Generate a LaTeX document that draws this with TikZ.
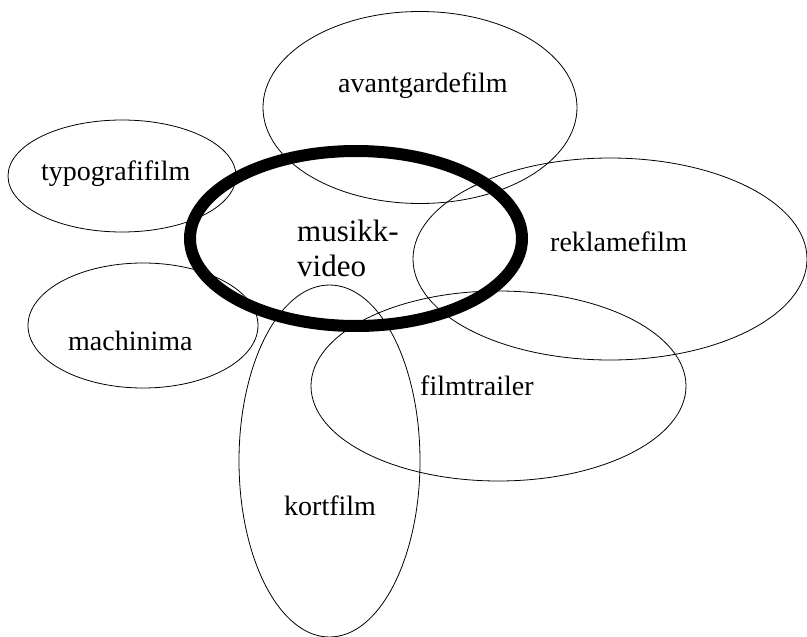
\documentclass[tikz,border=0pt]{standalone}
\usepackage{fontspec}
\setmainfont{Liberation Serif}
\tikzset{
    oval/.style={line width=0.8pt},
    mainoval/.style={line width=12pt},
    word/.style={inner sep=0pt, anchor=base west, font=\fontsize{28pt}{35pt}\selectfont}
}
\begin{document}
\begin{tikzpicture}[x=1pt,y=-1pt]
    \useasboundingbox (0,0) rectangle (807,637);
    \draw [oval] (420,107.5) ellipse [x radius=157, y radius=96];
    \draw [oval] (122,176) ellipse [x radius=114, y radius=56];
    \draw [oval] (610,259) ellipse [x radius=197, y radius=101];
    \draw [oval] (143,325.5) ellipse [x radius=115, y radius=62.5];
    \draw [oval] (498.5,386) ellipse [x radius=187.5, y radius=95];
    \draw [oval] (329.5,461) ellipse [x radius=90.5, y radius=176];
    \draw [mainoval] (356,238.5) ellipse [x radius=166, y radius=87.5];
    \node [word] (avant) at (338,92.7) {avantgardefilm};
    \node [word] (typo) at (41,180.7) {typografifilm};
    \node [word, align=left, anchor=north west, font=\fontsize{31pt}{35pt}\selectfont] (musikk) at (297,220) {musikk-\\video};
    \node [word] (reklame) at (550,251.7) {reklamefilm};
    \node [word] (machinima) at (68,350) {machinima};
    \node [word] (trailer) at (420,395) {filmtrailer};
    \node [word] (kort) at (284,515) {kortfilm};
\end{tikzpicture}
\end{document}
